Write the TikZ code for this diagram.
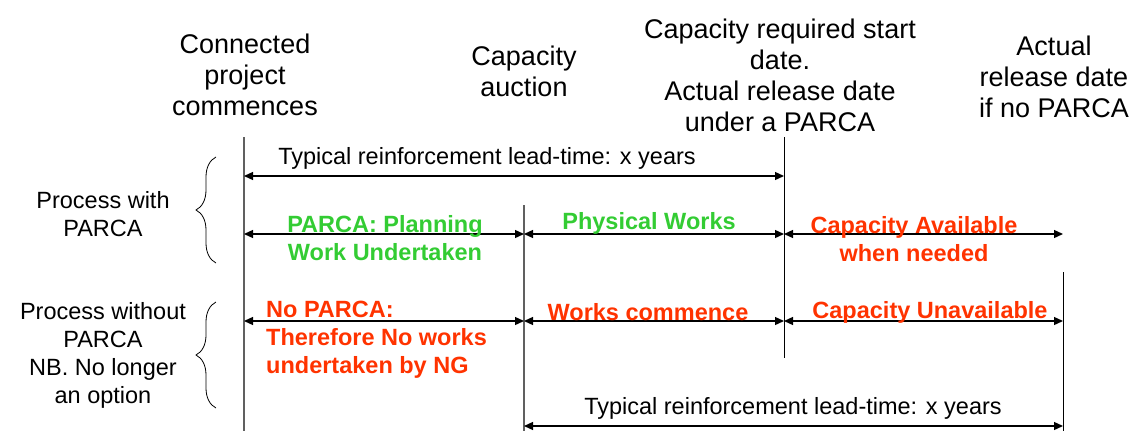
\documentclass[tikz,border=0pt]{standalone}
\usepackage{fontspec}
\setmainfont{Liberation Sans}
\usepackage{xcolor}
\usetikzlibrary{arrows.meta,decorations.pathreplacing}

\definecolor{WorkGreen}{HTML}{33CC33}
\definecolor{AlertRed}{HTML}{FF3300}
\definecolor{LineGray}{HTML}{606060}

\begin{document}
\begin{tikzpicture}[
        % Environment Config
        x=1pt, y=-1pt,
        Span/.style={% Style for the time spans
          {Triangle[length=9pt,width=8pt]}-{Triangle[length=9pt,width=8pt]},
          black,
          line width=1.3pt
        },
        Milestone/.style={% Style for the vertical date lines
          line width=#1
        },
        Heading/.style={% Style for the dates on top
          align=center,
          inner sep=0pt,
          font=\fontsize{27}{31}\selectfont
        },
        Note/.style={% Style for plain notes
          align=center,
          inner sep=0pt,
          font=\fontsize{23.5}{28}\selectfont
        },
        GoodText/.style={% Style for green labels
          Note,
          text=WorkGreen,
          font=\fontsize{23.5}{28}\selectfont\bfseries
        },
        BadText/.style={% Style for red labels
          Note,
          text=AlertRed,
          font=\fontsize{23.5}{28}\selectfont\bfseries
        },
        Bracket/.style={% Style for the curly braces
          decorate,
          decoration={brace,amplitude=20pt},
          line width=0.8pt
        }
      ]

      \useasboundingbox (0,0) rectangle (1133,431);

      % Line ends
      \coordinate (A top) at (244,137);
      \coordinate (A bot) at (244,431);
      \coordinate (B top) at (524,205);
      \coordinate (B bot) at (524,431);
      \coordinate (C top) at (784,137);
      \coordinate (C bot) at (784,358);
      \coordinate (D top) at (1063,272);
      \coordinate (D bot) at (1063,431);

      % Rows
      \coordinate (LeadTop) at (0,176);
      \coordinate (RowWith) at (0,234);
      \coordinate (RowWithout) at (0,321);
      \coordinate (LeadBot) at (0,426);

      %===Dates===
      \node[Heading] (Connected) at (245,75) {Connected\\project\\commences};
      \node[Heading] (Auction) at (524,71) {Capacity\\auction};
      \node[Heading] (Required) at (780,75) {Capacity required start\\date.\\Actual release date\\under a PARCA};
      \node[Heading] (Release) at (1054,77) {Actual\\release date\\if no PARCA};

      %===Vertical lines===
      \draw[Milestone=1.6pt, LineGray] (A top) -- (A bot);
      \draw[Milestone=1.6pt, LineGray] (B top) -- (B bot);
      \draw[Milestone=1pt] (C top) -- (C bot);
      \draw[Milestone=1pt] (D top) -- (D bot);

      %===Lead-time, with PARCA===
      \draw[Span] (A top |- LeadTop) -- (C top |- LeadTop);
      \node[Note] (LeadWith) at (487,158) {Typical reinforcement lead-time: x years};

      %===Process with PARCA===
      \draw[Span] (A top |- RowWith) -- (B top |- RowWith);
      \draw[Span] (B top |- RowWith) -- (C top |- RowWith);
      \draw[Span] (C top |- RowWith) -- (D top |- RowWith);
      \node[GoodText] (Planning) at (385,238) {PARCA: Planning\\Work Undertaken};
      \node[GoodText] (Physical) at (649,223) {Physical Works};
      \node[BadText] (Available) at (914,239) {Capacity Available\\when needed};

      %===Process without PARCA===
      \draw[Span] (A top |- RowWithout) -- (B top |- RowWithout);
      \draw[Span] (B top |- RowWithout) -- (C top |- RowWithout);
      \draw[Span] (C top |- RowWithout) -- (D top |- RowWithout);
      \node[BadText, align=left, anchor=west] (NoParca) at (266,340) {No PARCA:\\Therefore No works\\undertaken by NG};
      \node[BadText] (Commence) at (648,312) {Works commence};
      \node[BadText] (Unavailable) at (930,312) {Capacity Unavailable};

      %===Lead-time, without PARCA===
      \draw[Span] (B top |- LeadBot) -- (D top |- LeadBot);
      \node[Note] (LeadWithout) at (793,408) {Typical reinforcement lead-time: x years};

      %===Process names===
      \draw[Bracket] (216,263) -- (216,157);
      \node[Note] (WithParca) at (103,214) {Process with\\PARCA};
      \draw[Bracket] (216,408) -- (216,302);
      \node[Note] (WithoutParca) at (103,355) {Process without\\PARCA\\NB. No longer\\an option};

      \end{tikzpicture}
\end{document}
